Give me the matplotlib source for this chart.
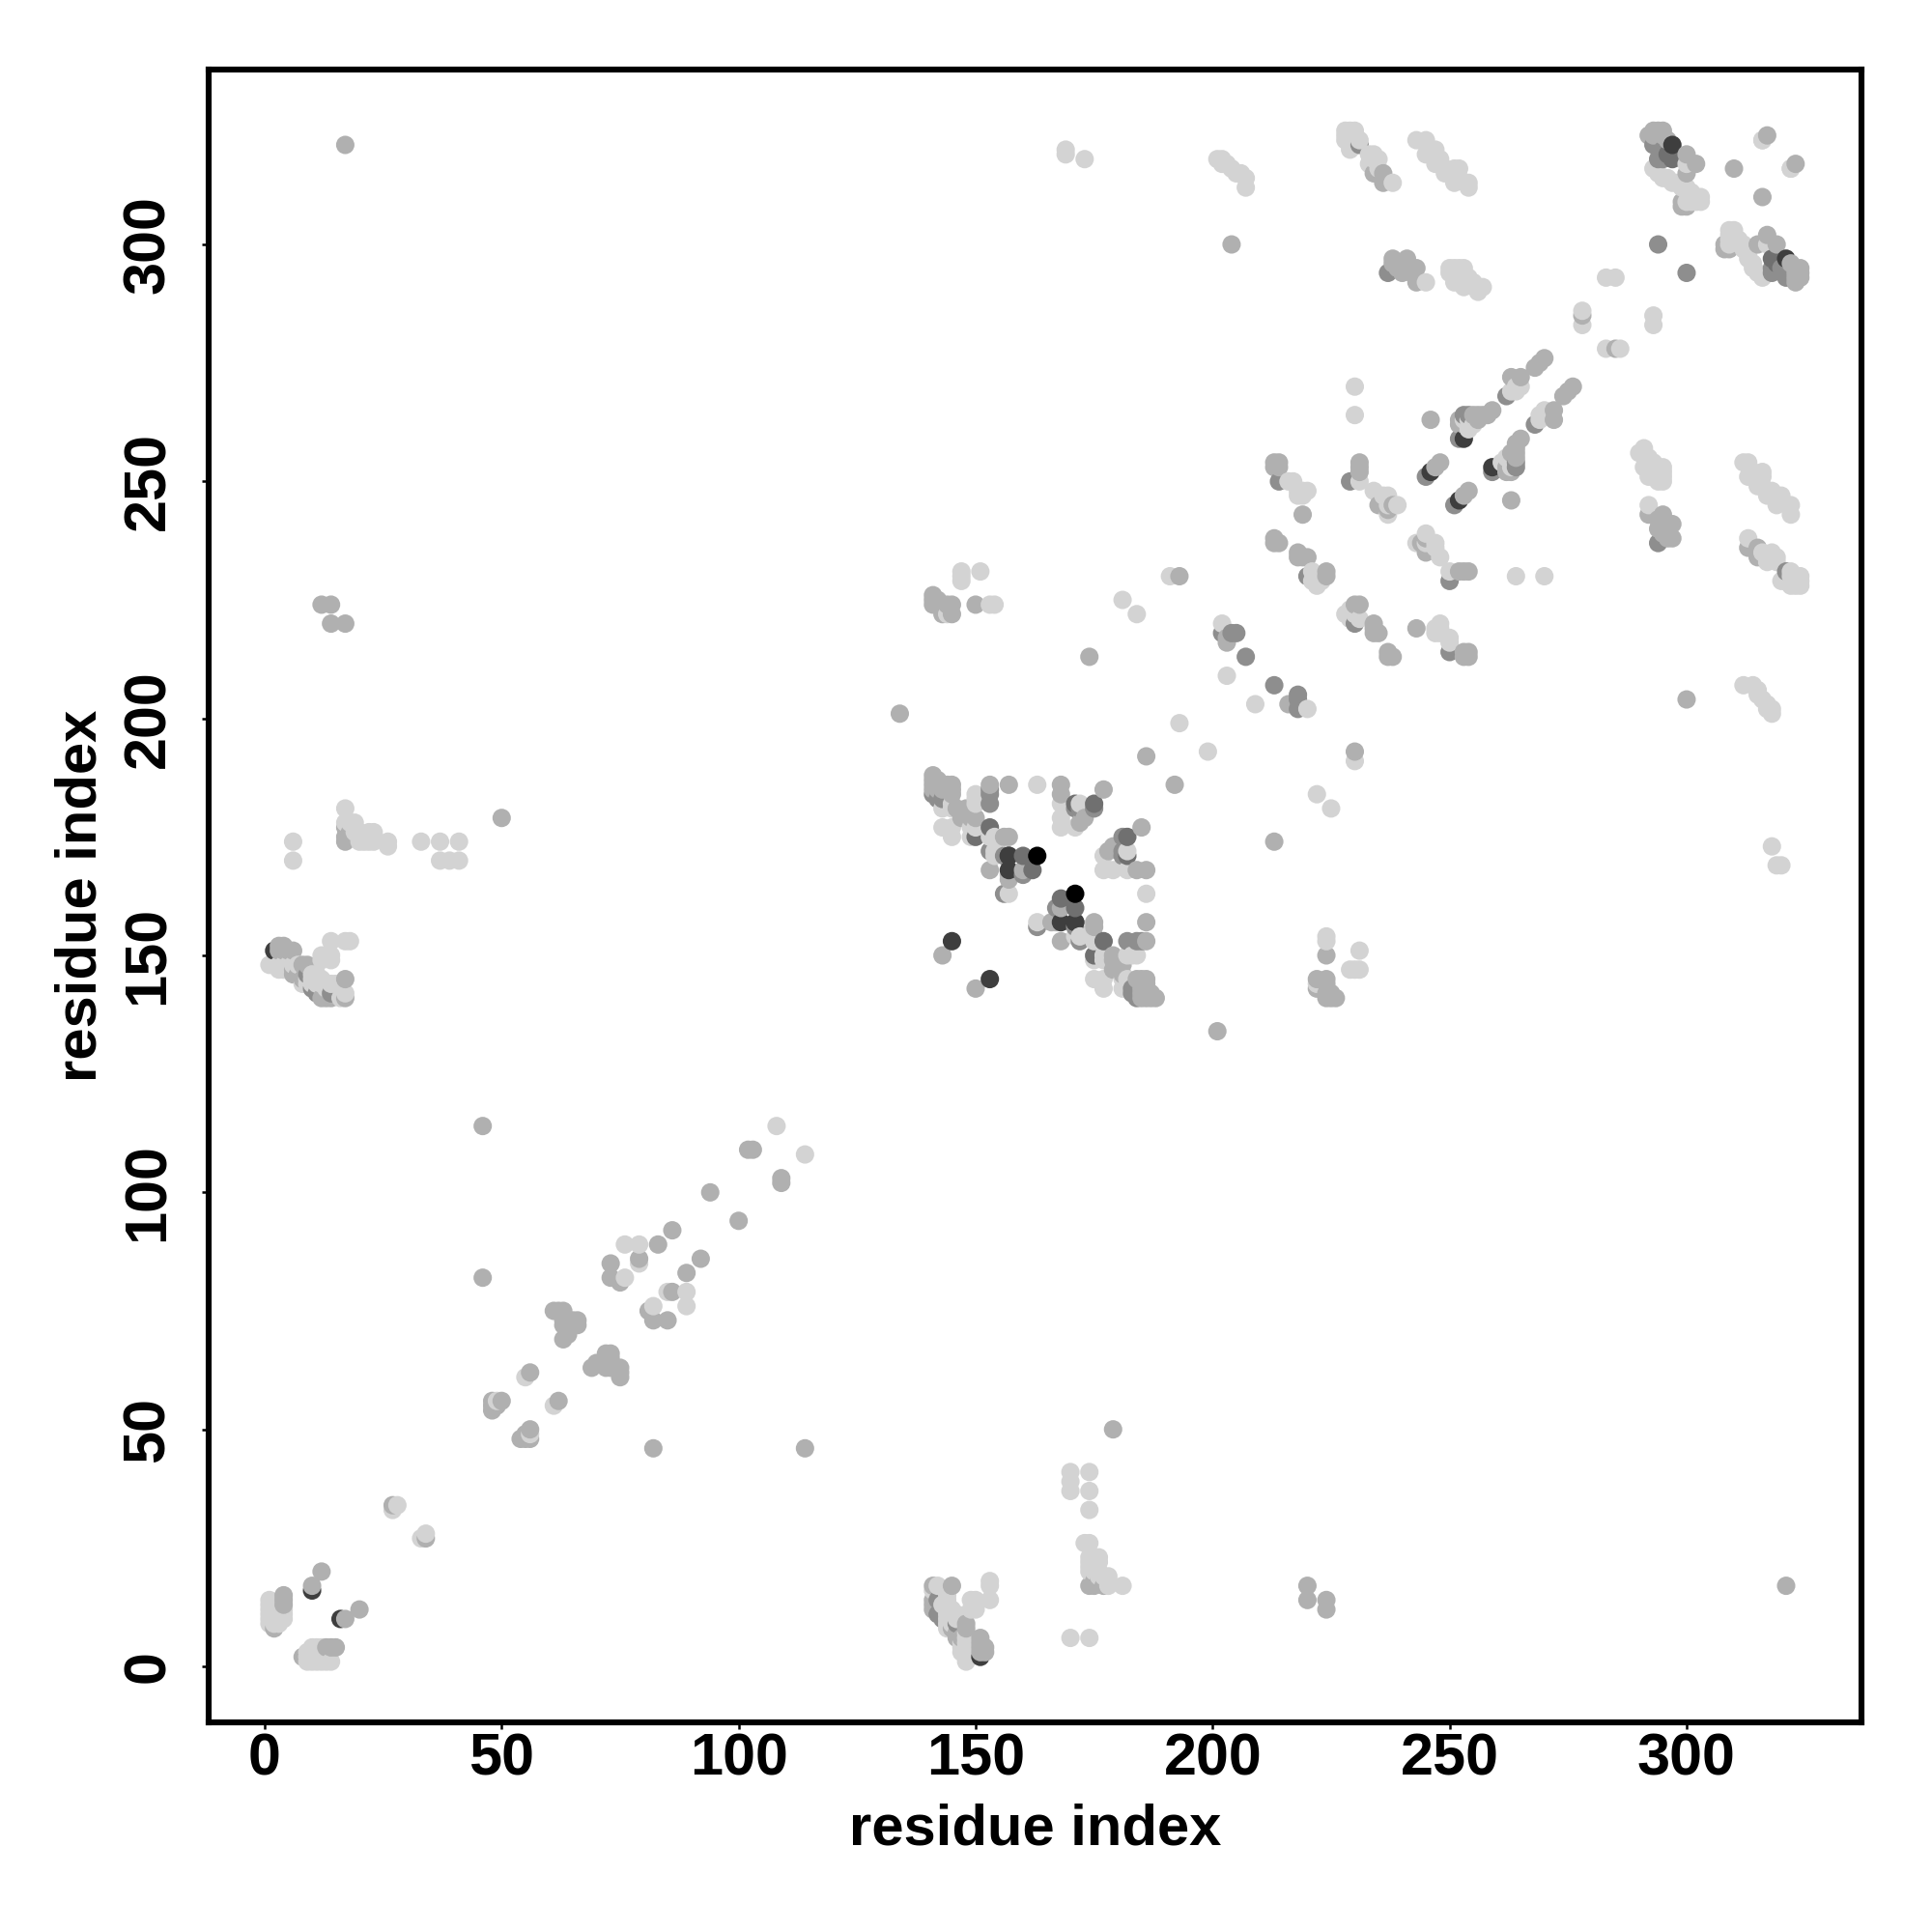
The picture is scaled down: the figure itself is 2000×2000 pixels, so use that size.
"""Residue contact map, drawn on both sides of the diagonal."""
import matplotlib
matplotlib.use("Agg")
import matplotlib.pyplot as plt
import numpy as np

plt.rcParams["font.family"] = ["Liberation Sans", "DejaVu Sans"]

TICKS = [0, 50, 100, 150, 200, 250, 300]

# contacts as (i, j) with i < j, one list per grey level
light = [
    (1, 9), (1, 10), (1, 11), (1, 12), (1, 13), (1, 14), (2, 9), (2, 10), (2, 11), (2, 12), (2, 13),
    (3, 9), (3, 10), (3, 11), (3, 12), (4, 10), (4, 11), (4, 12),
    (27, 33), (28, 34), (49, 56), (55, 61), (76, 82), (76, 89), (79, 85), (79, 89), (108, 114),
    (6, 170), (6, 174), (33, 174), (37, 170), (37, 174), (39, 170), (41, 170), (41, 174),
    (17, 178), (17, 181), (18, 178), (19, 176), (19, 177), (19, 178), (20, 174), (20, 175), (20, 176),
    (21, 174), (21, 175), (22, 174), (22, 176), (23, 174), (23, 176), (26, 173), (26, 174),
    (1, 148), (2, 148), (3, 148), (4, 148), (5, 148), (6, 148), (7, 148), (3, 147), (4, 147), (5, 147),
    (8, 144), (9, 144), (10, 144), (11, 144), (12, 144), (13, 144), (14, 144), (15, 144),
    (9, 145), (10, 145), (11, 145), (12, 145), (10, 146), (11, 146), (13, 143),
    (12, 149), (12, 150), (14, 149), (14, 150), (14, 153), (16, 141), (17, 142), (17, 153), (18, 153),
    (144, 222), (147, 229), (147, 230), (147, 231), (151, 231), (153, 224), (154, 224),
    (143, 177), (143, 181), (145, 175), (145, 177), (145, 181), (145, 182), (149, 175), (149, 177),
    (150, 177), (150, 182), (150, 183), (150, 184), (153, 175), (154, 175), (154, 171), (154, 172),
    (157, 163), (163, 186), (168, 177), (168, 179), (168, 182), (171, 177), (172, 182),
    (181, 225), (184, 222), (191, 230), (193, 199), (203, 209), (202, 220),
    (216, 250), (217, 250), (218, 247), (218, 248), (219, 247), (219, 248), (220, 248),
    (231, 250), (234, 248), (236, 247), (237, 243), (237, 245), (237, 247), (239, 245),
    (221, 229), (221, 231), (222, 228), (222, 230), (223, 229), (230, 264), (230, 270),
    (254, 261), (253, 263), (254, 263), (255, 262), (263, 269), (264, 269), (264, 270), (265, 270),
    (228, 322), (228, 323), (228, 324), (229, 320), (229, 321), (229, 324), (230, 322), (230, 324),
    (231, 322), (233, 317), (233, 319), (234, 318), (234, 319), (235, 316), (235, 318), (238, 313),
    (243, 322), (245, 319), (245, 322), (246, 320), (247, 317), (247, 320), (248, 318), (249, 315),
    (249, 316), (251, 313), (251, 316), (252, 314), (252, 316), (254, 312), (254, 313),
    (245, 292), (250, 294), (250, 295), (251, 295), (252, 294), (252, 295), (253, 293), (253, 295),
    (254, 293), (255, 292), (251, 292), (253, 291), (256, 290), (256, 291), (257, 291),
    (201, 318), (202, 317), (202, 318), (203, 317), (204, 316), (205, 315), (206, 315), (207, 312),
    (207, 314), (169, 319), (169, 320), (173, 318),
    (278, 283), (278, 286), (283, 293), (285, 293),
    (293, 316), (294, 315), (295, 314), (296, 314), (297, 313), (298, 313), (299, 312), (300, 312),
    (301, 311), (301, 310), (302, 310), (303, 310), (303, 309), (302, 309), (301, 309), (300, 309),
    (300, 317), (316, 322), (322, 316),
]
mid = [
    (2, 8), (4, 13), (4, 14), (4, 15), (10, 17), (12, 20), (27, 34), (8, 148), (9, 148),
    (46, 82), (46, 114), (48, 54), (48, 55), (48, 56), (49, 55), (50, 56), (56, 62),
    (61, 75), (62, 75), (63, 69), (63, 72), (63, 73), (63, 75), (64, 70), (64, 73),
    (65, 72), (65, 73), (66, 72), (66, 73), (73, 82), (73, 85), (75, 81), (79, 86),
    (83, 89), (86, 92), (94, 100), (102, 109), (103, 109),
    (17, 174), (17, 175), (18, 175), (18, 176), (17, 177), (12, 224), (14, 224), (14, 220), (17, 220),
    (50, 179), (17, 321),
    (3, 151), (3, 152), (4, 151), (4, 152), (5, 151), (6, 151), (6, 146), (7, 146), (8, 145), (6, 147),
    (12, 141), (13, 141), (14, 141), (17, 141), (17, 145), (134, 201),
    (141, 185), (141, 186), (141, 187), (141, 188), (142, 185), (142, 186), (142, 187), (143, 185),
    (143, 186), (143, 150), (144, 185), (144, 186), (145, 184), (145, 185), (145, 186), (146, 181),
    (147, 179), (147, 180), (148, 181), (149, 179), (150, 179), (153, 168), (153, 186), (156, 175),
    (157, 166), (157, 167), (157, 175), (157, 186), (160, 168), (168, 184), (168, 186), (172, 178),
    (173, 179), (177, 185), (186, 192),
    (141, 224), (141, 225), (141, 226), (142, 224), (142, 225), (143, 222), (144, 224), (145, 222),
    (145, 224), (150, 224), (193, 230), (174, 213), (203, 216), (203, 217),
    (213, 237), (213, 238), (213, 253), (213, 254), (214, 237), (214, 253), (214, 254), (219, 243),
    (218, 234), (218, 235), (219, 234), (220, 234), (224, 230), (224, 231), (231, 252), (231, 253),
    (231, 254), (235, 245), (238, 245), (237, 244),
    (246, 263), (247, 253), (248, 254), (252, 262), (252, 263), (253, 262), (255, 264), (256, 263),
    (256, 264), (257, 264), (258, 264), (259, 265), (263, 272), (265, 272), (268, 274), (269, 275), (270, 276),
    (234, 315), (236, 313), (236, 315),
    (238, 296), (238, 297), (239, 295), (239, 296), (240, 294), (240, 295), (240, 296), (241, 295),
    (241, 296), (241, 297), (242, 294), (242, 295), (243, 292), (243, 295),
    (204, 300), (278, 285), (292, 323), (293, 323), (293, 324), (294, 323), (294, 324), (295, 323),
    (295, 324), (296, 322), (300, 319), (302, 317), (300, 315), (299, 308), (300, 308), (299, 309),
    (317, 323), (310, 316),
]
dark = [
    (141, 184), (142, 183), (143, 183), (9, 146), (11, 142), (10, 143), (14, 142),
    (156, 163), (156, 171), (153, 172), (153, 182), (153, 184), (153, 185), (160, 167),
    (175, 181), (172, 181), (171, 181),
    (202, 218), (204, 218), (205, 218), (207, 213), (214, 250), (229, 250), (220, 230),
    (237, 294), (245, 251), (252, 259), (253, 264), (254, 264), (262, 268),
    (231, 321), (293, 321), (295, 320), (294, 318), (295, 318), (294, 300),
]
deep = [
    (150, 175), (153, 177), (175, 182), (171, 182), (162, 168), (160, 171),
    (296, 319), (297, 318),
]
very_dark = [
    (10, 16), (2, 151), (145, 153), (157, 168), (157, 171), (171, 157),
    (246, 252), (253, 259), (297, 321),
]
black = [(163, 171)]

SHADES = ["#d3d3d3", "#b0b0b0", "#8e8e8e", "#707070", "#3e3e3e", "#000000"]
GROUPS = [light, mid, dark, deep, very_dark, black]

xs, ys, cs = [], [], []
for contacts, shade in zip(GROUPS, SHADES):
    res_i, res_j = zip(*contacts)
    xs += list(res_i) + list(res_j)
    ys += list(res_j) + list(res_i)
    cs += [shade] * (2 * len(contacts))
xs = np.array(xs)
ys = np.array(ys)
cs = np.array(cs)
order = np.lexsort((ys, xs))

fig = plt.figure(figsize=(10, 10), dpi=200)
ax = fig.add_axes([216 / 2000, 1 - 1783 / 2000, 1711 / 2000, 1711.5 / 2000])
ax.scatter(xs[order], ys[order], c=cs[order], s=47, linewidths=0)

ax.set_xlim(-11.82, 336.9)
ax.set_ylim(-11.82, 337)
ax.set_xticks(TICKS)
ax.set_yticks(TICKS)
ax.tick_params(length=2.4, width=0.9, labelsize=22)
ax.tick_params(axis="x", pad=1.5)
ax.tick_params(axis="y", pad=9.5)
for lab in ax.get_xticklabels() + ax.get_yticklabels():
    lab.set_fontweight("bold")
for lab in ax.get_yticklabels():
    lab.set_rotation(90)
    lab.set_va("center")
for spine in ax.spines.values():
    spine.set_linewidth(2.2)

ax.set_xlabel("residue index", fontsize=21.5, fontweight="bold")
ax.set_ylabel("residue index", fontsize=21.5, fontweight="bold")
ax.xaxis.set_label_coords(0.5, -0.0486)
ax.yaxis.set_label_coords(-0.0613, 0.5)

fig.savefig("out.png", dpi=200)
plt.close(fig)
